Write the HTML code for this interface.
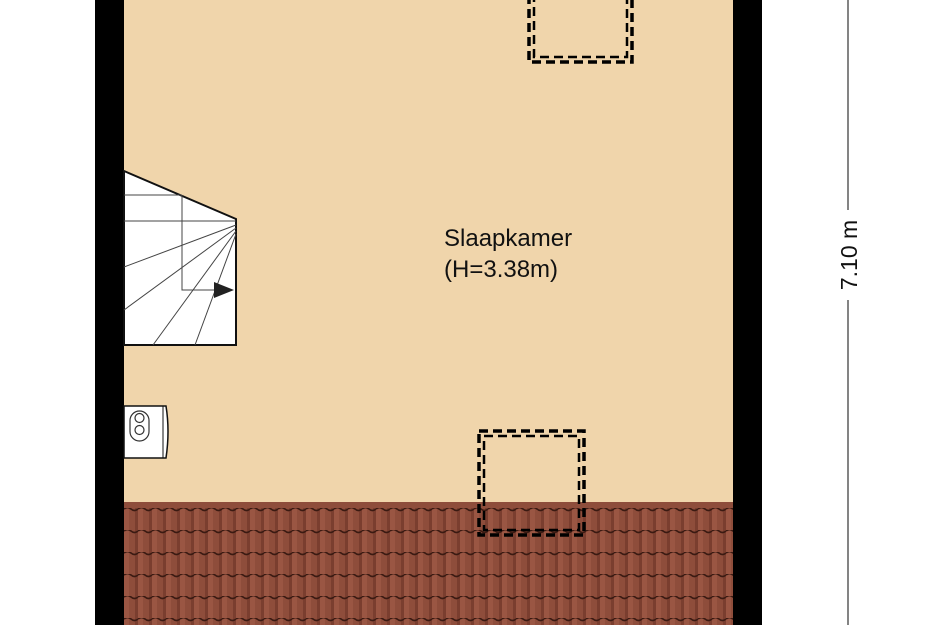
<!DOCTYPE html>
<html><head><meta charset="utf-8"><style>
html,body{margin:0;padding:0;background:#fff;width:945px;height:625px;overflow:hidden}
</style></head><body>
<svg width="945" height="625" viewBox="0 0 945 625" xmlns="http://www.w3.org/2000/svg">
<defs>
<pattern id="tiles" x="124" y="508" width="14" height="22" patternUnits="userSpaceOnUse">
<rect width="14" height="22" fill="#8e4d3b"/>
<rect x="0" y="0" width="5" height="22" fill="#9a5643"/>
<rect x="11" y="0" width="3" height="22" fill="#7a3e2f"/>
<path d="M0 1 Q3.5 -2 7 1 Q10.5 4 14 1" stroke="#3a1a12" stroke-width="1.6" fill="none"/>
</pattern>
</defs>
<rect x="124" y="0" width="609" height="625" fill="#f0d5ab"/>
<rect x="124" y="502" width="609" height="123" fill="url(#tiles)"/>
<rect x="124" y="502" width="609" height="6" fill="#8e4d3b"/>
<rect x="95" y="0" width="29" height="625" fill="#000"/>
<rect x="733" y="0" width="29" height="625" fill="#000"/>
<!-- stairs -->
<polygon points="124,171 236,219 236,345 124,345" fill="#fff" stroke="#111" stroke-width="2"/>
<g stroke="#444" stroke-width="1" fill="none">
<line x1="124" y1="195" x2="182" y2="195"/>
<line x1="124" y1="221" x2="236" y2="221"/>
<polyline points="182,195 182,290 220,290"/>
<line x1="236" y1="225" x2="124" y2="267"/>
<line x1="236" y1="228" x2="124" y2="310"/>
<line x1="236" y1="231" x2="153" y2="345"/>
<line x1="236" y1="234" x2="195" y2="345"/>
</g>
<polygon points="214,282 234,290 214,298" fill="#222"/>
<!-- toilet -->
<path d="M124 406 H166 Q170 431 166 458 H124 Z" fill="#fff" stroke="#111" stroke-width="1.5"/>
<line x1="163" y1="406" x2="163" y2="458" stroke="#111" stroke-width="1"/>
<rect x="130" y="411" width="19" height="30" rx="9.5" fill="none" stroke="#333" stroke-width="1.2"/>
<circle cx="139.5" cy="418" r="4.5" fill="none" stroke="#333" stroke-width="1.2"/>
<circle cx="139.5" cy="430" r="4.5" fill="none" stroke="#333" stroke-width="1.2"/>
<!-- skylights -->
<g fill="none" stroke="#000" stroke-width="3.5" stroke-dasharray="9,5">
<rect x="529" y="-10" width="103" height="72"/>
<rect x="534" y="-10" width="93" height="67" stroke-width="2.5"/>
<rect x="479" y="431" width="105" height="104"/>
<rect x="484" y="436" width="95" height="94" stroke-width="2.5"/>
</g>
<text x="444" y="246" font-family="Liberation Sans, sans-serif" font-size="24" fill="#111">Slaapkamer</text>
<text x="444" y="277" font-family="Liberation Sans, sans-serif" font-size="24" fill="#111">(H=3.38m)</text>
<!-- dimension -->
<line x1="848" y1="0" x2="848" y2="210" stroke="#333" stroke-width="1.2"/>
<line x1="848" y1="300" x2="848" y2="625" stroke="#333" stroke-width="1.2"/>
<text transform="translate(857,255) rotate(-90)" text-anchor="middle" font-family="Liberation Sans, sans-serif" font-size="23" fill="#111">7.10 m</text>
</svg>
</body></html>
